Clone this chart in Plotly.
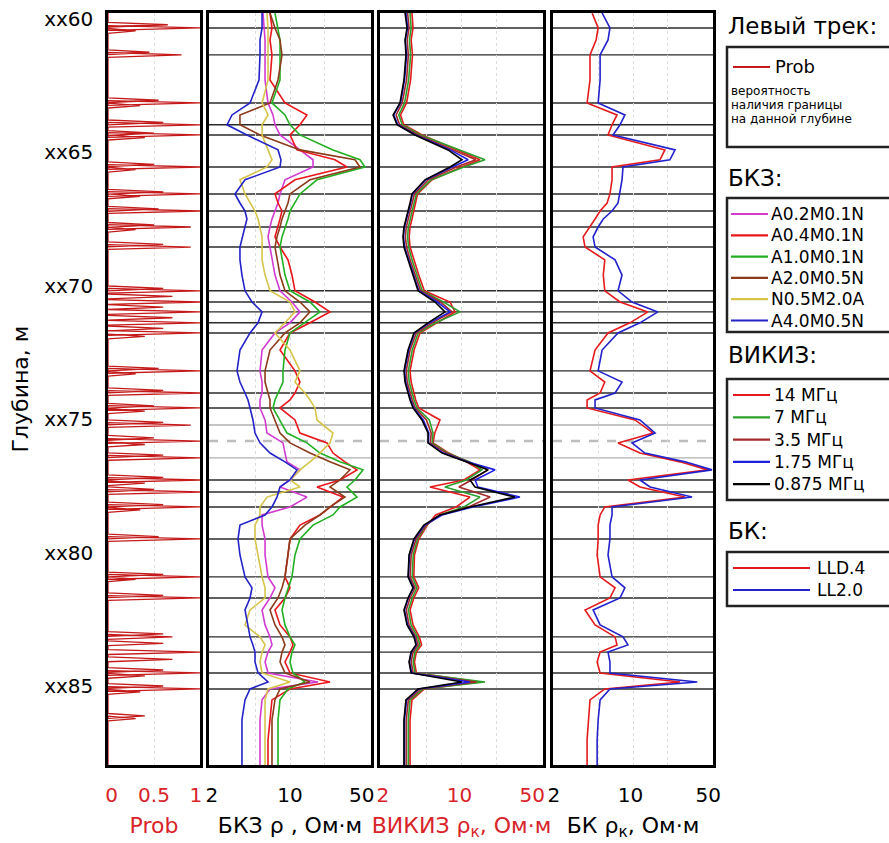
import plotly.graph_objects as go

W, H = 889, 843

# ---------------- DATA ----------------
depth = [59.78, 60.34, 60.79, 61.35, 62.29, 63.15, 63.60, 63.97, 64.35, 64.91, 65.28, 65.55, 66.03, 66.56,
         66.90, 67.20, 67.50, 67.80, 68.17, 68.55, 69.03, 69.60, 70.19, 70.61, 70.98, 71.39, 71.77, 72.41,
         73.19, 73.61, 74.02, 74.28, 74.58, 75.03, 75.52, 75.89, 76.27, 76.60, 76.90, 77.28, 77.54, 77.92,
         78.29, 78.59, 78.97, 79.49, 80.09, 80.91, 81.32, 81.70, 82.15, 82.71, 83.16, 83.46, 83.73, 84.10,
         84.51, 84.85, 85.11, 85.52, 86.27, 87.02, 87.96]

bkz_a02 = [5.85, 5.97, 6.09, 6.09, 6.09, 6.46, 7.13, 7.42, 8.20, 12.19, 15.79, 15.79, 9.05, 8.20, 7.88, 7.42,
           6.99, 6.72, 6.46, 6.72, 6.99, 7.42, 8.20, 10.40, 12.19, 10.0, 7.42, 5.74, 5.51, 5.74, 5.74, 5.51,
           5.51, 6.09, 6.33, 8.70, 9.05, 9.42, 12.19, 10.0, 8.20, 14.01, 10.0, 5.74, 5.74, 6.09, 6.09, 6.46,
           7.42, 6.72, 5.74, 6.09, 6.72, 6.99, 6.46, 6.09, 6.46, 17.44, 6.72, 5.74, 5.51, 5.51, 5.51]
bkz_a04 = [6.72, 6.99, 6.72, 6.99, 6.72, 9.05, 14.01, 12.19, 10.0, 11.49, 24.45, 31.03, 11.04, 7.42, 7.88,
           8.53, 8.20, 7.88, 7.42, 8.20, 9.61, 10.40, 11.04, 16.43, 22.13, 14.87, 10.0, 8.20, 11.04, 12.19,
           11.04, 10.0, 8.20, 11.04, 12.19, 20.85, 23.49, 29.81, 37.85, 26.99, 17.10, 28.65, 22.13, 18.14,
           12.19, 10.0, 9.61, 9.05, 10.0, 9.05, 7.42, 8.20, 10.0, 10.61, 10.0, 9.05, 10.0, 22.13, 10.0, 6.99,
           6.72, 6.46, 6.46]
bkz_a10 = [7.42, 7.88, 8.20, 8.20, 8.20, 6.99, 9.05, 10.0, 12.19, 23.49, 40.19, 44.39, 17.10, 12.19, 11.04,
           10.0, 9.61, 9.05, 8.53, 8.20, 8.53, 9.05, 10.0, 14.87, 18.14, 13.47, 10.0, 9.05, 8.70, 8.70, 7.88,
           7.42, 7.13, 8.20, 9.42, 14.01, 18.14, 26.99, 42.66, 36.37, 31.03, 37.85, 26.99, 23.49, 15.79, 12.19,
           11.04, 10.40, 9.61, 9.05, 8.53, 9.05, 10.0, 11.04, 10.40, 10.0, 10.61, 13.47, 9.61, 8.20, 7.88,
           7.88, 7.88]
bkz_a20 = [6.72, 7.42, 8.20, 8.53, 7.88, 6.72, 3.70, 3.70, 5.51, 12.19, 36.37, 40.19, 14.87, 10.0, 9.61,
           9.05, 8.53, 8.20, 7.72, 7.42, 7.72, 8.20, 9.05, 12.19, 14.87, 12.19, 9.05, 6.72, 6.09, 6.09, 6.46,
           6.72, 6.72, 7.42, 8.20, 10.0, 14.87, 22.13, 32.93, 26.99, 22.13, 29.81, 22.13, 18.14, 13.47, 10.0,
           9.61, 9.05, 8.53, 7.88, 6.72, 7.42, 8.53, 9.05, 8.53, 8.20, 9.05, 14.87, 8.20, 7.42, 6.99, 6.99,
           6.99]
bkz_n05 = [6.33, 6.46, 6.46, 6.46, 6.46, 5.74, 6.46, 5.74, 5.74, 6.46, 6.99, 6.33, 3.70, 4.09, 4.52, 4.99,
           5.30, 5.51, 5.74, 5.74, 5.74, 6.09, 6.72, 10.0, 11.04, 9.05, 7.42, 10.0, 12.19, 11.04, 13.47,
           14.87, 16.43, 17.10, 23.49, 22.13, 18.14, 14.87, 12.19, 10.0, 12.19, 6.33, 5.51, 5.51, 4.99, 4.99,
           5.30, 5.74, 6.09, 6.09, 4.52, 4.09, 5.51, 6.09, 5.74, 5.51, 5.74, 10.0, 6.46, 6.09, 6.09, 6.09, 6.09]
bkz_a40 = [5.74, 5.74, 5.51, 5.51, 5.40, 4.52, 3.16, 2.86, 4.25, 7.88, 8.36, 8.20, 4.09, 3.35, 3.70, 4.09,
           4.25, 4.09, 3.85, 3.70, 3.70, 3.85, 4.09, 4.70, 5.74, 5.30, 4.52, 3.70, 3.49, 3.70, 4.09, 4.34,
           4.52, 4.79, 4.99, 5.51, 6.72, 9.05, 11.49, 10.0, 8.20, 7.72, 6.99, 6.09, 3.70, 3.56, 3.70, 4.09,
           4.70, 4.52, 4.09, 4.34, 4.52, 4.79, 4.99, 4.99, 5.30, 6.46, 4.52, 4.09, 3.85, 3.85, 3.85]

vik_14 = [3.76, 3.84, 3.70, 3.80, 3.66, 3.38, 3.0, 3.2, 4.6, 9.2, 14.4, 10.0, 5.6, 4.2, 4.05, 3.9, 3.76, 3.62,
          3.56, 3.62, 3.9, 4.3, 4.8, 7.97, 8.8, 6.2, 4.4, 3.92, 3.62, 3.70, 3.9, 4.05, 4.3, 6.54, 5.9, 5.7, 7.8,
          11.0, 14.4, 10.5, 5.37, 11.8, 9.0, 6.0, 5.1, 4.3, 3.95, 3.9, 4.3, 3.9, 3.62, 3.84, 4.35, 4.55, 4.1,
          3.95, 4.1, 14.4, 4.8, 3.76, 3.62, 3.62, 3.62]
vik_7 = [3.62, 3.70, 3.58, 3.66, 3.52, 3.25, 2.90, 3.10, 4.45, 9.7, 15.9, 10.5, 5.5, 4.1, 3.92, 3.76, 3.62, 3.50,
         3.45, 3.52, 3.76, 4.15, 4.6, 7.0, 9.71, 6.0, 4.25, 3.78, 3.50, 3.56, 3.76, 3.92, 4.15, 5.3, 5.7, 5.6, 7.6,
         11.8, 15.0, 11.0, 7.2, 14.4, 10.5, 6.5, 5.0, 4.2, 3.85, 3.78, 4.15, 3.78, 3.50, 3.70, 4.2, 4.4, 4.0, 3.85,
         4.0, 15.9, 4.7, 3.62, 3.50, 3.50, 3.50]
vik_35 = [3.45, 3.55, 3.42, 3.50, 3.38, 3.10, 2.75, 2.95, 4.25, 8.6, 13.3, 9.0, 5.2, 3.95, 3.78, 3.62, 3.48,
          3.36, 3.30, 3.38, 3.62, 4.0, 4.45, 6.6, 8.29, 5.6, 4.1, 3.62, 3.36, 3.42, 3.62, 3.78, 4.0, 5.0, 5.5, 5.4,
          7.4, 11.5, 16.9, 12.2, 9.5, 17.6, 11.5, 6.6, 4.95, 4.08, 3.70, 3.62, 4.0, 3.62, 3.36, 3.55, 4.05, 4.25,
          3.85, 3.70, 3.85, 13.3, 4.5, 3.50, 3.36, 3.36, 3.36]
vik_175 = [3.34, 3.45, 3.30, 3.38, 3.25, 3.00, 2.62, 2.85, 4.05, 8.0, 11.4, 8.3, 4.95, 3.80, 3.66, 3.52, 3.38,
           3.24, 3.18, 3.25, 3.52, 3.90, 4.30, 6.2, 7.97, 5.3, 3.95, 3.52, 3.25, 3.32, 3.52, 3.66, 3.90, 4.7,
           5.25, 5.2, 7.0, 11.2, 19.4, 13.1, 13.8, 31.7, 12.5, 6.8, 4.85, 3.95, 3.58, 3.50, 3.88, 3.50, 3.24,
           3.45, 3.95, 4.10, 3.72, 3.58, 3.74, 11.8, 4.3, 3.38, 3.24, 3.24, 3.24]
vik_0875 = [3.28, 3.41, 3.28, 3.34, 3.21, 2.97, 2.59, 2.80, 3.99, 7.66, 10.1, 7.97, 4.86, 3.76, 3.62, 3.48,
            3.34, 3.21, 3.15, 3.21, 3.48, 3.84, 4.24, 5.93, 7.22, 5.16, 3.91, 3.48, 3.21, 3.28, 3.48, 3.62,
            3.84, 4.58, 5.16, 5.16, 6.81, 10.72, 16.88, 11.83, 13.06, 28.76, 11.83, 6.54, 4.75, 3.91, 3.55,
            3.48, 3.84, 3.48, 3.21, 3.41, 3.91, 4.07, 3.69, 3.55, 3.69, 10.1, 4.24, 3.34, 3.21, 3.21, 3.21]

bk_lld04 = [4.39, 4.96, 4.76, 4.21, 4.21, 3.97, 7.25, 6.56, 6.05, 19.0, 17.2, 6.56, 6.56, 6.29, 5.94, 5.16,
            4.66, 4.21, 3.67, 3.81, 5.67, 5.5, 5.67, 7.7, 13.5, 9.4, 6.05, 4.66, 4.21, 5.67, 5.16, 3.97, 3.97,
            10.4, 15.0, 7.4, 11.5, 25.8, 45.0, 9.03, 11.5, 28.5, 5.67, 5.16, 4.96, 4.96, 4.86, 5.16, 6.97, 6.29,
            3.81, 4.66, 6.97, 7.25, 5.16, 4.86, 5.16, 25.8, 5.67, 4.21, 4.06, 3.97, 3.97]
bk_ll20 = [5.37, 6.29, 6.05, 5.16, 5.16, 4.96, 8.5, 7.7, 6.69, 23.3, 21.0, 8.18, 8.02, 7.7, 7.4, 6.56, 5.5,
           4.96, 4.48, 4.66, 6.97, 8.02, 7.4, 9.8, 16.5, 11.5, 7.4, 5.37, 4.96, 8.02, 6.97, 4.66, 4.66, 11.5,
           15.6, 9.8, 12.7, 28.5, 49.0, 11.5, 14.1, 32.8, 6.56, 6.56, 6.29, 6.29, 6.05, 6.56, 8.5, 7.7, 4.48,
           5.16, 8.18, 9.03, 6.05, 6.29, 6.29, 36.4, 6.29, 5.16, 4.96, 4.86, 4.86]

# Probability of a boundary: spike centres (m) and spike heights
prob_depth = [60.22, 60.34, 60.45, 61.25, 61.35, 63.05, 63.15, 63.25, 63.88, 63.97, 64.28, 64.35, 64.45,
              65.45, 65.55, 65.65, 66.48, 66.56, 66.65, 67.12, 67.20, 67.72, 67.80, 67.90, 68.45, 68.55,
              70.10, 70.19, 70.40, 70.61, 70.80, 70.98, 71.20, 71.39, 71.60, 71.77, 71.90, 73.10, 73.19,
              73.30, 73.92, 74.02, 74.50, 74.58, 74.70, 75.12, 75.22, 75.70, 75.82, 75.95, 76.35, 76.45,
              77.18, 77.28, 77.40, 77.63, 77.73, 78.20, 78.29, 78.40, 79.40, 79.49, 80.82, 80.91, 81.00,
              81.60, 81.70, 83.05, 83.16, 83.40, 83.73, 84.00, 84.40, 84.51, 84.62, 85.00, 85.11, 85.22,
              86.12, 86.22]
prob_peak = [0.65, 1.0, 0.3, 0.45, 0.8, 0.55, 1.0, 0.35, 0.6, 1.0, 0.5, 1.0, 0.4, 0.5, 1.0, 0.3, 0.6, 1.0, 0.35,
             0.55, 1.0, 0.5, 0.9, 0.3, 0.6, 0.9, 0.6, 1.0, 0.7, 1.0, 0.6, 1.0, 0.7, 1.0, 0.6, 1.0, 0.4, 0.55, 1.0,
             0.3, 0.6, 1.0, 0.5, 1.0, 0.4, 0.6, 0.9, 0.5, 1.0, 0.4, 0.6, 1.0, 0.6, 1.0, 0.4, 0.5, 1.0, 0.6, 1.0,
             0.35, 0.55, 1.0, 0.6, 1.0, 0.3, 0.6, 1.0, 0.6, 0.7, 0.6, 1.0, 0.7, 0.6, 1.0, 0.4, 0.6, 1.0, 0.35,
             0.4, 0.3]

bounds_black = [60.34, 61.35, 63.15, 63.97, 64.35, 65.55, 66.56, 67.20, 67.80, 68.55, 70.19, 70.61, 70.98,
                71.39, 71.77, 73.19, 74.02, 74.58, 77.28, 77.73, 78.29, 79.49, 80.91, 81.70, 83.16, 83.73,
                84.51, 85.11]
bounds_gray = [75.22, 76.45]
bound_dashed = [75.82]

depth_ticks = [60, 65, 70, 75, 80, 85]
depth_ticktext = ["xx60", "xx65", "xx70", "xx75", "xx80", "xx85"]
prob_tickpos = [0.04, 0.5, 0.955]
prob_ticktext = ["0", "0.5", "1"]
bkz_tickpos = [2.12, 10, 41.5]
vik_tickpos = [2.12, 9.6, 40.5]
bk_tickpos = [2.04, 9.5, 45.5]
res_ticktext = ["2", "10", "50"]

bkz_names = ["A0.2M0.1N", "A0.4M0.1N", "A1.0M0.1N", "A2.0M0.5N", "N0.5M2.0A", "A4.0M0.5N"]
vik_names = ["14 МГц", "7 МГц", "3.5 МГц", "1.75 МГц", "0.875 МГц"]
bk_names = ["LLD.4", "LL2.0"]

# ---------------- STYLE ----------------
FONT = "DejaVu Sans"
RED = "#d8232a"
PROB_COLOR = "#c41a1a"
bkz_colors = ["#d23bd2", "#e8161b", "#22b022", "#8b3a1a", "#d6c44a", "#2323c8"]
vik_colors = ["#e41a1c", "#2ca02c", "#a52a2a", "#1f1fe0", "#000000"]
bk_colors = ["#e41a1c", "#2222cc"]


def fx(p):
    return p / W


def fy(p):
    return 1 - p / H


TOP, BOT = 13, 765
ydom = [fy(BOT), fy(TOP)]
tracks = [(108, 200), (209, 371), (380, 543), (553, 713)]

fig = go.Figure()

# Track 1: probability spikes
px_, py_ = [0], [depth[0]]
hw = 0.09
for d, p in zip(prob_depth, prob_peak):
    px_ += [0, p, 0]
    py_ += [d - hw, d, d + hw]
px_.append(0)
py_.append(depth[-1])
fig.add_trace(go.Scatter(x=px_, y=py_, mode="lines", name="Prob", line=dict(color=PROB_COLOR, width=1.3),
                         xaxis="x", yaxis="y"))

# Track 2: BKZ
for name, vals, col in zip(bkz_names, [bkz_a02, bkz_a04, bkz_a10, bkz_a20, bkz_n05, bkz_a40], bkz_colors):
    fig.add_trace(go.Scatter(x=vals, y=depth, mode="lines", name=name, line=dict(color=col, width=1.6),
                             xaxis="x2", yaxis="y2"))

# Track 3: VIKIZ
for name, vals, col in zip(vik_names, [vik_14, vik_7, vik_35, vik_175, vik_0875], vik_colors):
    fig.add_trace(go.Scatter(x=vals, y=depth, mode="lines", name=name, line=dict(color=col, width=1.6),
                             xaxis="x3", yaxis="y3"))

# Track 4: BK
for name, vals, col in zip(bk_names, [bk_lld04, bk_ll20], bk_colors):
    fig.add_trace(go.Scatter(x=vals, y=depth, mode="lines", name=name, line=dict(color=col, width=1.6),
                             xaxis="x4", yaxis="y4"))

axis_common = dict(showline=True, mirror=True, linecolor="black", linewidth=2.5, ticks="",
                   automargin=False, zeroline=False)
minor_log = dict(tickvals=[5, 10, 20], showgrid=True, gridcolor="#dcdcdc", griddash="dot", gridwidth=1)

layout = dict(
    width=W, height=H, margin=dict(l=0, r=0, t=0, b=0),
    paper_bgcolor="white", plot_bgcolor="white",
    font=dict(family=FONT, size=18, color="black"),
    showlegend=False,
)

titles = ["Prob", "БКЗ ρ , Ом·м", "ВИКИЗ ρ<sub>к</sub>, Ом·м", "БК ρ<sub>к</sub>, Ом·м"]
title_colors = [RED, "black", RED, "black"]
tickpos = [prob_tickpos, bkz_tickpos, vik_tickpos, bk_tickpos]
for i, (x0, x1) in enumerate(tracks):
    k = "" if i == 0 else str(i + 1)
    ax = dict(axis_common, domain=[fx(x0), fx(x1)], anchor="y" + k,
              title=dict(text=titles[i], font=dict(size=22, color=title_colors[i]), standoff=12),
              tickfont=dict(size=20, color=title_colors[i] if i in (0, 2) else "black"),
              ticklabelstandoff=10, tickvals=tickpos[i])
    if i == 0:
        ax.update(range=[0, 1], ticktext=prob_ticktext, showgrid=False,
                  minor=dict(tickvals=[0.5], showgrid=True, gridcolor="#e0e0e0", griddash="dot"))
    else:
        ax.update(type="log", range=[0.30103, 1.69897], ticktext=res_ticktext, showgrid=False,
                  minor=minor_log)
    layout["xaxis" + k] = ax
    ay = dict(axis_common, domain=ydom, anchor="x" + k, showgrid=False)
    if i == 0:
        ay.update(range=[depth[-1], depth[0]], tickvals=depth_ticks, ticktext=depth_ticktext,
                  tickfont=dict(size=20), ticklabelstandoff=8,
                  title=dict(text="Глубина, м", font=dict(size=22), standoff=10))
    else:
        ay.update(matches="y", showticklabels=False)
    layout["yaxis" + k] = ay

fig.update_layout(**layout)

shapes = []
ann = []

# Boundary lines
for k in ["2", "3", "4"]:
    for d in bounds_black:
        shapes.append(dict(type="line", xref="x%s domain" % k, yref="y" + k, x0=0, x1=1, y0=d, y1=d,
                           line=dict(color="#2b2b2b", width=1.4), layer="below"))
    for d in bounds_gray:
        shapes.append(dict(type="line", xref="x%s domain" % k, yref="y" + k, x0=0, x1=1, y0=d, y1=d,
                           line=dict(color="#b0b0b0", width=1.4), layer="below"))
    for d in bound_dashed:
        shapes.append(dict(type="line", xref="x%s domain" % k, yref="y" + k, x0=0, x1=1, y0=d, y1=d,
                           line=dict(color="#bdbdbd", width=2.5, dash="dash"), layer="below"))

# Legend boxes
for (y0, y1) in [(47, 147), (198, 332), (379, 500), (552, 606)]:
    shapes.append(dict(type="rect", xref="paper", yref="paper", x0=fx(727), x1=fx(905),
                       y0=fy(y1), y1=fy(y0), line=dict(color="#222", width=2.5)))


def legend_entry(y, color, text, lx0, lx1, tx, size=17):
    shapes.append(dict(type="line", xref="paper", yref="paper", x0=fx(lx0), x1=fx(lx1),
                       y0=fy(y), y1=fy(y), line=dict(color=color, width=2.2)))
    ann.append(dict(text=text, x=fx(tx), y=fy(y), xref="paper", yref="paper", xanchor="left",
                    yanchor="middle", showarrow=False, borderpad=0, font=dict(size=size, family=FONT)))


legend_entry(67, PROB_COLOR, "Prob", 733, 770, 774, size=18)
for i, (n, c) in enumerate(zip(bkz_names, bkz_colors)):
    legend_entry(214 + 21.3 * i, c, n, 731, 768, 770)
for i, (n, c) in enumerate(zip(vik_names, vik_colors)):
    legend_entry(395 + 22.3 * i, c, n, 733, 770, 773)
for i, (n, c) in enumerate(zip(bk_names, bk_colors)):
    legend_entry(568 + 22 * i, c, n, 733, 810, 816)

# Legend titles + description
for txt, yy in [("Левый трек:", 26), ("БКЗ:", 178), ("ВИКИЗ:", 355), ("БК:", 531)]:
    ann.append(dict(text=txt, x=fx(726), y=fy(yy), xref="paper", yref="paper", xanchor="left",
                    yanchor="middle", showarrow=False, font=dict(size=23, family=FONT)))
for txt, yy in [("вероятность", 91), ("наличия границы", 105), ("на данной глубине", 119)]:
    ann.append(dict(text=txt, x=fx(730), y=fy(yy), xref="paper", yref="paper", xanchor="left",
                    yanchor="middle", showarrow=False, borderpad=0, font=dict(size=12, family=FONT)))

fig.update_layout(shapes=shapes, annotations=ann)

fig.write_html("out.html")
